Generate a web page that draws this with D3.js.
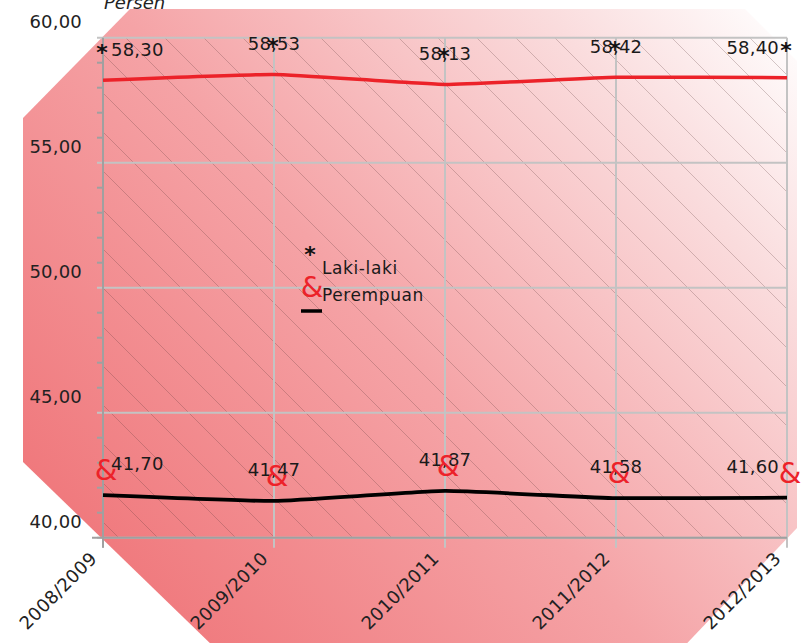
<!DOCTYPE html>
<html><head><meta charset="utf-8">
<script src="https://cdn.jsdelivr.net/npm/d3@7"></script>
<style>
html,body{margin:0;padding:0;background:#fff;}
svg{display:block;font-family:"DejaVu Sans",Verdana,sans-serif;}
</style></head>
<body>
<svg id="chart" width="803" height="643"></svg>
<script>
const categories = ["2008/2009","2009/2010","2010/2011","2011/2012","2012/2013"];
const lakiLaki = [58.30, 58.53, 58.13, 58.42, 58.40];
const perempuan = [41.70, 41.47, 41.87, 41.58, 41.60];
const yTicks = [40, 45, 50, 55, 60];
const seriesNames = ["Laki-laki", "Perempuan"];
const yTitle = "Persen";

const svg = d3.select("#chart");
const plot = {left:103, right:787, top:37.7, bottom:537.7};

const fmt = v => v.toFixed(2).replace(".", ",");

const x = d3.scalePoint().domain(categories).range([plot.left, plot.right]);
const y = d3.scaleLinear().domain([40, 60]).range([plot.bottom, plot.top]);

// background gradient octagon
const defs = svg.append("defs");
const grad = defs.append("linearGradient").attr("id","bg")
  .attr("gradientUnits","userSpaceOnUse")
  .attr("x1",60).attr("y1",600).attr("x2",780).attr("y2",0);
grad.append("stop").attr("offset",0).attr("stop-color","#ef7276");
grad.append("stop").attr("offset",0.45).attr("stop-color","#f5a3a6");
grad.append("stop").attr("offset",0.8).attr("stop-color","#fadcdd");
grad.append("stop").attr("offset",1).attr("stop-color","#ffffff");
svg.append("polygon")
  .attr("points","23,118 130,9 745,9 797,61 797,528 652,680 248,680 23,462")
  .attr("fill","url(#bg)");

defs.append("clipPath").attr("id","pclip").append("rect")
  .attr("x",plot.left).attr("y",plot.top)
  .attr("width",plot.right-plot.left).attr("height",plot.bottom-plot.top);

// hatch
const hatch = svg.append("g").attr("clip-path","url(#pclip)");
for (let c = 107 - 39*30; c < 700; c += 39) {
  hatch.append("line")
    .attr("x1", 0).attr("y1", c)
    .attr("x2", 900).attr("y2", c + 900)
    .attr("stroke","#5a3a3a").attr("stroke-opacity",0.38).attr("stroke-width",0.7);
}

// gridlines
const grid = svg.append("g");
grid.selectAll("line.h").data(yTicks).join("line")
  .attr("x1",97).attr("x2",plot.right)
  .attr("y1",d=>y(d)).attr("y2",d=>y(d))
  .attr("stroke","#c3c3c3").attr("stroke-width",2);
grid.selectAll("line.v").data(categories).join("line")
  .attr("x1",d=>x(d)).attr("x2",d=>x(d))
  .attr("y1",plot.top).attr("y2",plot.bottom+10)
  .attr("stroke","#c3c3c3").attr("stroke-width",2);

// minor ticks
const minor = d3.range(40, 60.5, 1).filter(v => v % 5 !== 0);
svg.append("g").selectAll("line").data(minor).join("line")
  .attr("x1",97).attr("x2",plot.left)
  .attr("y1",d=>y(d)).attr("y2",d=>y(d))
  .attr("stroke","#a0a0a0").attr("stroke-width",2);

// axes lines
svg.append("line").attr("x1",plot.left).attr("x2",plot.left)
  .attr("y1",plot.top).attr("y2",plot.bottom+10)
  .attr("stroke","#a0a0a0").attr("stroke-width",2);
svg.append("line").attr("x1",92).attr("x2",plot.right)
  .attr("y1",plot.bottom).attr("y2",plot.bottom)
  .attr("stroke","#a0a0a0").attr("stroke-width",2);

// y labels
svg.append("g").selectAll("text").data(yTicks).join("text")
  .attr("x",82).attr("y",d=>y(d)-9.5)
  .attr("text-anchor","end").attr("font-size",18).attr("letter-spacing",0.2)
  .attr("fill","#222")
  .text(d=>fmt(d));

// y title
svg.append("text").attr("x",104).attr("y",9)
  .attr("font-size",18).attr("font-style","italic").attr("fill","#222")
  .text(yTitle);

// x labels
svg.append("g").selectAll("text").data(categories).join("text")
  .attr("transform",d=>`translate(${x(d)-5},${plot.bottom+22}) rotate(-45)`)
  .attr("text-anchor","end").attr("font-size",18).attr("letter-spacing",0.3)
  .attr("fill","#222")
  .text(d=>d);

// lines
const line = d3.line().x((d,i)=>x(categories[i])).y(d=>y(d)).curve(d3.curveCardinal.tension(0.6));
svg.append("path").datum(lakiLaki).attr("d",line)
  .attr("fill","none").attr("stroke","#ec2229").attr("stroke-width",3.5);
svg.append("path").datum(perempuan).attr("d",line)
  .attr("fill","none").attr("stroke","#000").attr("stroke-width",3.8);

const n = categories.length;
const anchorOf = i => i===0 ? "start" : (i===n-1 ? "end" : "middle");
const dxOf = i => i===0 ? 8 : (i===n-1 ? -8 : 0);

// data labels
svg.append("g").selectAll("text").data(lakiLaki).join("text")
  .attr("x",(d,i)=>x(categories[i])+dxOf(i)).attr("y",d=>y(d)-24)
  .attr("text-anchor",(d,i)=>anchorOf(i)).attr("font-size",18).attr("letter-spacing",0.2)
  .attr("fill","#1a1a1a").text(d=>fmt(d));
svg.append("g").selectAll("text").data(perempuan).join("text")
  .attr("x",(d,i)=>x(categories[i])+dxOf(i)).attr("y",d=>y(d)-25)
  .attr("text-anchor",(d,i)=>anchorOf(i)).attr("font-size",18).attr("letter-spacing",0.2)
  .attr("fill","#1a1a1a").text(d=>fmt(d));

// markers (text glyphs)
svg.append("g").selectAll("text").data(lakiLaki).join("text")
  .attr("x",(d,i)=>x(categories[i])-1).attr("y",d=>y(d)-20)
  .attr("text-anchor","middle").attr("font-size",22).attr("font-weight","bold").attr("fill","#111")
  .text("*");
svg.append("g").selectAll("text").data(perempuan).join("text")
  .attr("x",(d,i)=>x(categories[i])+3).attr("y",d=>y(d)-15)
  .attr("text-anchor","middle").attr("font-size",29).attr("fill","#ec2229")
  .text("&");

// legend
const lg = svg.append("g");
lg.append("text").attr("x",310).attr("y",262).attr("text-anchor","middle")
  .attr("font-size",22).attr("font-weight","bold").attr("fill","#111").text("*");
lg.append("text").attr("x",312).attr("y",297).attr("text-anchor","middle")
  .attr("font-size",29).attr("fill","#ec2229").text("&");
lg.append("line").attr("x1",301).attr("x2",322).attr("y1",311).attr("y2",311)
  .attr("stroke","#000").attr("stroke-width",3.5);
lg.append("text").attr("x",322).attr("y",274).attr("font-size",17).attr("letter-spacing",0.6)
  .attr("fill","#1a1a1a").text(seriesNames[0]);
lg.append("text").attr("x",322).attr("y",301).attr("font-size",17).attr("letter-spacing",0.6)
  .attr("fill","#1a1a1a").text(seriesNames[1]);
</script>
</body></html>
